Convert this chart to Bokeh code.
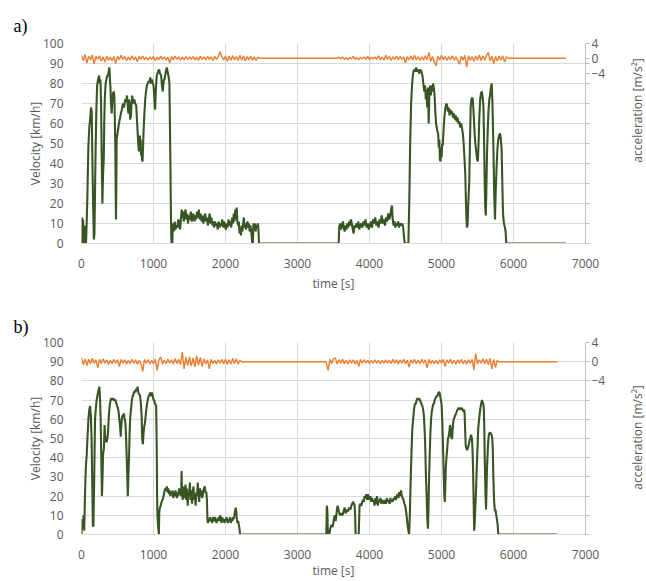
import math
from bokeh.plotting import figure
from bokeh.models import Range1d, LinearAxis, FixedTicker, Title, Label
from bokeh.layouts import column, row
from bokeh.embed import file_html
from bokeh.resources import INLINE

# ---------------- data ----------------
x_ticks = [0, 1000, 2000, 3000, 4000, 5000, 6000, 7000]
v_ticks = [0, 10, 20, 30, 40, 50, 60, 70, 80, 90, 100]
acc_ticks = [-4, 0, 4]

# panel a) velocity [km/h] (time [s], value)
speed_a = [
(0,0),(8,13),(15,2),(22,12),(30,0),(40,9),(48,0),(62,0),(72,10),(82,24),(95,48),(108,58),(120,62),(132,68),(142,66),(152,40),(162,18),(172,2),(180,5),(194,42),(205,65),(217,79),(230,82),(244,84),(254,80),(263,82),(272,70),(282,40),(290,20),(300,35),(309,42),(316,60),(323,72),(335,80),(346,82),(358,84),(369,84),(378,86),(387,88),(395,82),(401,79),(410,70),(419,65),(428,72),(438,75),(447,76),(456,74),(463,62),(470,47),(475,25),(479,12),(484,30),(488,52),(500,55),(516,59),(530,62),(548,65),(560,67),(576,70),(590,68),(608,72),(620,71),(631,74),(640,70),(648,66),(654,65),(660,72),(668,70),(676,62),(687,64),(695,70),(705,74),(718,70),(733,72),(746,70),(760,69),(770,62),(779,56),(788,50),(797,46),(805,52),(811,54),(816,48),(822,52),(828,44),(834,48),(840,42),(848,41),(855,48),(862,56),(872,64),(885,72),(896,76),(908,79),(920,80),(932,81),(945,81),(955,83),(965,80),(977,82),(990,80),(1000,79),(1010,74),(1018,68),(1023,67),(1030,75),(1038,80),(1046,84),(1055,85),(1065,86),(1078,87),(1090,85),(1106,84),(1115,80),(1122,78),(1129,76),(1138,80),(1145,82),(1152,82),(1162,84),(1172,86),(1184,88),(1196,86),(1207,84),(1215,82),(1221,80),(1228,60),(1235,39),(1242,15),(1249,0),(1262,0),
(1267,8),(1275,10),(1285,6),(1295,11),(1305,7),(1318,9),(1330,8),(1345,12),(1358,9),(1369,7),(1380,12),(1392,17),(1400,13),(1410,16),(1420,11),(1432,14),(1445,17),(1456,12),(1468,15),(1480,10),(1492,14),(1505,12),(1518,16),(1530,11),(1542,13),(1555,15),(1568,11),(1580,14),(1592,12),(1605,16),(1618,13),(1630,17),(1642,12),(1655,15),(1668,11),(1680,14),(1692,10),(1705,13),(1718,15),(1730,11),(1742,13),(1755,9),(1768,12),(1780,15),(1792,10),(1805,13),(1818,9),(1830,11),(1842,8),(1855,11),(1868,9),(1880,10),(1892,7),(1905,11),(1918,8),(1930,10),(1942,9),(1955,12),(1968,8),(1980,11),(1992,9),(2005,7),(2018,10),(2030,8),(2042,12),(2055,9),(2068,11),(2080,8),(2092,13),(2105,10),(2115,15),(2125,11),(2135,17),(2145,12),(2155,18),(2165,11),(2175,9),(2185,11),(2195,5),(2205,8),(2215,4),(2225,9),(2235,6),(2245,10),(2255,13),(2265,8),(2275,10),(2285,7),(2295,9),(2305,11),(2315,8),(2325,10),(2335,6),(2345,9),(2355,7),(2365,3),(2372,0),(2380,0),(2388,10),(2398,7),(2408,10),(2418,6),(2428,9),(2438,8),(2448,10),(2458,7),(2465,0),
(3560,0),(3572,0),(3580,8),(3592,10),(3605,7),(3618,9),(3630,11),(3642,8),(3655,6),(3668,9),(3680,7),(3692,10),(3705,8),(3718,11),(3730,9),(3742,12),(3755,10),(3768,7),(3780,5),(3792,9),(3805,8),(3818,10),(3830,8),(3845,11),(3858,7),(3870,9),(3885,10),(3900,8),(3915,11),(3930,9),(3945,12),(3960,8),(3975,10),(3990,7),(4005,9),(4020,11),(4035,8),(4050,12),(4065,10),(4080,13),(4095,9),(4110,11),(4125,8),(4140,12),(4155,10),(4170,14),(4185,10),(4200,12),(4215,9),(4230,13),(4245,11),(4260,15),(4275,12),(4290,14),(4300,17),(4312,19),(4322,12),(4335,9),(4348,11),(4360,8),(4372,10),(4385,9),(4398,11),(4410,8),(4425,10),(4440,9),(4455,10),(4468,8),(4480,3),(4490,0),(4540,0),
(4552,20),(4565,50),(4578,70),(4592,80),(4605,85),(4620,87),(4635,86),(4648,88),(4660,86),(4675,87),(4690,85),(4705,87),(4720,86),(4735,84),(4748,80),(4760,76),(4772,79),(4782,72),(4792,77),(4802,68),(4812,78),(4822,60),(4832,76),(4842,79),(4852,74),(4862,79),(4872,76),(4882,80),(4894,78),(4904,74),(4914,66),(4924,60),(4934,58),(4944,56),(4954,55),(4962,48),(4970,52),(4978,42),(4986,41),(4994,48),(5002,43),(5010,50),(5018,49),(5030,58),(5042,64),(5055,68),(5068,70),(5078,69),(5090,66),(5100,68),(5112,64),(5122,67),(5135,65),(5147,66),(5160,63),(5172,65),(5185,62),(5198,64),(5210,61),(5222,63),(5235,60),(5248,61),(5260,58),(5272,60),(5284,58),(5296,55),(5308,50),(5320,42),(5330,35),(5340,20),(5352,8),(5362,9),(5372,20),(5385,30),(5395,50),(5405,68),(5415,72),(5425,73),(5435,72),(5448,64),(5460,55),(5470,50),(5482,46),(5495,42),(5505,41),(5515,50),(5525,63),(5537,72),(5548,75),(5560,76),(5572,73),(5583,68),(5592,50),(5600,30),(5608,18),(5615,14),(5622,25),(5632,45),(5642,56),(5652,66),(5664,72),(5674,74),(5686,78),(5697,80),(5706,72),(5714,60),(5722,45),(5732,25),(5743,12),(5752,25),(5766,39),(5778,48),(5789,52),(5800,54),(5812,55),(5822,53),(5835,47),(5845,30),(5852,18),(5858,13),(5868,10),(5881,8),(5890,6),(5900,0),(6729,0)]

# panel b) velocity [km/h]
speed_b = [
(0,0),(10,8),(20,3),(28,10),(38,2),(48,20),(60,35),(73,42),(85,52),(96,60),(108,65),(119,67),(130,62),(140,50),(150,25),(158,5),(165,4),(175,25),(188,60),(200,66),(210,70),(220,72),(235,75),(248,77),(258,70),(266,60),(275,40),(284,20),(292,30),(300,42),(312,45),(320,57),(328,52),(335,48),(342,50),(349,48),(358,50),(367,52),(380,62),(394,68),(405,70),(415,71),(427,70),(440,71),(455,70),(472,70),(485,68),(495,67),(505,66),(515,64),(525,60),(532,58),(540,54),(545,51),(550,55),(560,60),(570,62),(578,62),(590,63),(600,60),(610,58),(620,50),(628,40),(636,30),(643,20),(651,30),(660,40),(670,55),(679,62),(690,66),(700,70),(710,72),(720,73),(730,74),(740,75),(750,74),(760,76),(770,75),(780,77),(790,74),(803,73),(815,72),(825,68),(835,62),(843,50),(853,47),(860,52),(870,56),(881,58),(892,62),(900,65),(910,68),(920,70),(932,72),(945,73),(957,74),(967,72),(977,74),(990,72),(1000,70),(1010,70),(1022,68),(1037,67),(1045,45),(1050,20),(1055,10),(1062,5),(1070,2),(1075,0),(1080,12),(1090,14),(1100,15),(1112,17),(1125,18),(1140,20),(1150,22),(1160,24),(1172,23),(1185,25),(1195,22),(1205,24),(1215,21),(1225,23),(1235,20),(1245,22),(1255,21),(1265,23),(1275,19),(1285,22),(1295,20),(1305,23),(1315,21),(1325,19),(1335,22),(1345,20),(1355,24),(1365,21),(1375,23),(1385,20),(1390,33),(1396,22),(1405,18),(1415,25),(1425,21),(1435,19),(1445,26),(1455,18),(1465,24),(1475,15),(1485,22),(1495,20),(1505,27),(1515,18),(1525,23),(1535,16),(1545,22),(1555,25),(1565,18),(1575,21),(1585,15),(1595,22),(1605,20),(1615,27),(1625,21),(1635,17),(1645,24),(1655,20),(1665,23),(1675,19),(1688,21),(1700,24),(1712,25),(1722,22),(1734,22),(1742,18),(1750,7),(1757,6),(1765,8),(1775,7),(1785,9),(1795,7),(1805,8),(1815,6),(1825,9),(1835,8),(1845,7),(1855,9),(1865,8),(1875,6),(1885,8),(1895,7),(1905,9),(1915,7),(1925,10),(1935,8),(1945,6),(1955,9),(1965,7),(1975,8),(1985,6),(1995,8),(2005,7),(2015,9),(2025,7),(2035,6),(2045,8),(2055,7),(2065,9),(2075,6),(2085,8),(2095,7),(2105,9),(2115,8),(2124,10),(2132,12),(2142,14),(2150,12),(2158,8),(2166,6),(2175,7),(2185,5),(2195,3),(2202,0),
(3400,0),(3408,15),(3415,12),(3422,0),(3440,0),(3455,3),(3472,5),(3490,4),(3505,8),(3518,10),(3530,7),(3545,12),(3556,15),(3564,14),(3575,12),(3590,10),(3605,11),(3624,10),(3640,12),(3656,14),(3670,11),(3685,13),(3702,12),(3718,14),(3735,13),(3748,15),(3760,16),(3771,17),(3785,16),(3794,15),(3800,10),(3807,0),(3850,0),(3858,10),(3862,15),(3875,16),(3888,15),(3899,17),(3910,18),(3922,17),(3931,20),(3942,19),(3955,21),(3966,18),(3977,21),(3988,19),(4000,18),(4012,20),(4024,17),(4035,19),(4046,17),(4058,18),(4070,15),(4082,19),(4095,16),(4105,20),(4115,15),(4128,18),(4140,17),(4152,19),(4165,16),(4178,18),(4190,17),(4203,16),(4215,18),(4229,16),(4240,19),(4252,17),(4265,18),(4278,16),(4290,19),(4298,17),(4310,18),(4322,17),(4335,19),(4348,18),(4358,20),(4367,18),(4378,20),(4390,21),(4402,19),(4413,22),(4425,20),(4438,23),(4450,20),(4462,19),(4472,18),(4485,16),(4495,15),(4505,13),(4515,10),(4528,5),(4540,2),(4550,0),
(4560,10),(4573,30),(4585,45),(4595,55),(4606,60),(4618,65),(4630,68),(4642,68),(4655,70),(4666,71),(4678,70),(4688,71),(4700,70),(4712,69),(4722,68),(4734,67),(4745,65),(4755,62),(4765,55),(4775,45),(4784,30),(4794,20),(4803,8),(4812,3),(4820,15),(4828,30),(4835,40),(4845,52),(4855,60),(4865,64),(4875,66),(4885,68),(4894,68),(4905,70),(4917,71),(4928,72),(4940,72),(4950,73),(4960,74),(4972,74),(4982,72),(4992,70),(5000,68),(5010,60),(5018,50),(5025,40),(5032,30),(5040,20),(5046,17),(5053,25),(5060,35),(5069,40),(5080,45),(5090,50),(5101,51),(5110,54),(5118,57),(5124,56),(5132,52),(5140,50),(5147,50),(5155,55),(5162,58),(5170,60),(5180,61),(5190,62),(5202,63),(5212,64),(5222,65),(5239,66),(5250,65),(5262,66),(5275,65),(5284,66),(5295,65),(5305,64),(5315,65),(5321,63),(5328,55),(5335,47),(5345,45),(5355,44),(5367,45),(5380,47),(5390,49),(5399,50),(5410,52),(5422,50),(5430,45),(5438,35),(5445,20),(5450,10),(5454,2),(5460,5),(5467,12),(5477,20),(5490,35),(5500,45),(5510,55),(5522,60),(5537,65),(5550,68),(5562,70),(5569,69),(5580,68),(5587,66),(5595,55),(5600,40),(5606,30),(5612,20),(5619,13),(5626,25),(5632,35),(5638,40),(5648,48),(5658,52),(5668,53),(5680,53),(5690,52),(5697,52),(5705,50),(5712,45),(5720,30),(5728,20),(5735,15),(5743,12),(5750,13),(5760,10),(5770,8),(5780,5),(5789,0),(6606,0)]

# acceleration [m/s^2], sampled every acc_step seconds inside active segments
acc_step = 25
acc_a1_start = 0
acc_a1 = [0.8,-0.6,1.0,-1.2,0.6,-0.4,0.9,-1.5,0.5,-0.3,0.7,-0.8,0.4,-1.0,0.6,-0.5,0.3,-0.7,0.5,-1.4,
          0.6,-0.4,0.8,-0.3,0.5,-0.6,0.3,-0.5,0.7,-0.4,0.4,-0.9,0.5,-0.3,0.6,-0.4,0.3,-0.5,0.4,-0.3,
          0.5,-0.6,0.3,-0.4,0.6,-0.3,0.4,-0.5,0.3,-1.2,0.5,-0.4,0.6,-0.3,0.4,-0.5,0.3,-0.4,0.5,-0.3,
          0.4,-0.3,0.5,-0.4,0.3,-0.5,0.6,-0.3,0.4,-0.4,0.5,-0.3,0.4,-0.6,0.5,-0.3,0.4,1.8,0.3,-0.4,
          0.6,-0.8,0.6,-0.5,0.7,-0.4,0.5,-0.6,0.8,-0.5,0.6,-0.7,0.5,-0.4,0.6,-0.5,0.4,-0.6,0.3]
acc_a2_start = 3575
acc_a2 = [0.3,-0.2,0.4,-0.3,0.2,-0.4,0.3,-0.2,0.5,-0.3,0.2,-0.4,0.3,-0.2,0.4,-0.3,0.6,-0.4,0.3,-0.2,
          0.4,-0.3,0.7,-0.4,0.3,-0.5,0.8,-0.3,0.5,-0.6,0.4,-0.3,0.6,-0.4,0.5,-0.3,0.4,-1.2,0.5,-0.4,
          0.6,-0.5,0.8,-0.4,0.5,-0.6,0.4,-0.5,0.7,-0.4,1.6,-0.8,0.5,-1.0,-2.0,0.6,-0.5,0.8,-0.4,0.5,
          -0.6,0.5,-0.4,0.7,-0.5,0.4,-0.6,-1.6,0.6,-0.5,0.8,-2.4,0.7,-0.6,0.5,-0.8,0.6,-0.5,0.9,-0.6,
          0.7,-0.5,0.8,1.6,-0.7,0.6,-1.4,0.5,-0.8,0.6,-0.5,0.7,-1.0,0.4]
acc_a_flat = [(2475, 0), (3550, 0), (5925, 0), (6729, 0)]

acc_b1_start = 0
acc_b1 = [0.9,-0.7,0.6,-0.8,0.5,-0.4,0.7,-0.3,0.4,-1.3,0.5,-0.4,0.6,-0.3,0.4,-0.6,0.3,-0.4,0.5,-0.3,
          0.4,-1.0,0.5,-0.3,0.4,-0.5,0.3,-0.4,0.5,-0.3,0.4,-0.5,0.3,-0.4,-2.0,0.5,-0.3,0.4,-0.5,0.3,
          -0.4,0.5,-1.8,0.4,1.0,-0.5,0.3,-0.4,0.5,-0.3,0.4,-0.5,0.6,-0.4,0.5,-0.6,2.0,-1.5,0.9,-0.8,
          1.0,-0.9,0.8,-1.1,1.2,-0.7,0.9,-1.0,0.6,-0.5,0.4,-1.5,0.5,-0.4,0.3,-0.5,0.4,-0.3,0.5,-0.4,
          0.5,-0.6,0.4,-0.5,0.7,-0.4,0.6,-0.5,0.3]
acc_b2_start = 3400
acc_b2 = [-0.3,-1.8,0.5,-0.4,0.6,0.8,-0.5,0.4,-0.3,0.5,-0.4,0.3,-0.5,0.4,-0.3,0.4,-0.5,0.3,-1.0,0.5,
          -0.3,0.4,-0.3,0.3,-0.4,0.3,-0.3,0.4,-0.3,0.3,-0.4,0.3,-0.3,0.4,-0.3,0.3,-0.4,0.5,-0.3,0.4,
          -0.5,0.4,-0.3,0.5,-0.4,0.3,-1.1,0.4,-0.3,0.5,-0.4,0.3,-0.4,0.5,-0.3,0.4,-1.3,0.5,-0.4,0.3,
          -0.4,0.3,-0.5,0.4,-0.3,0.5,-1.0,0.4,-0.3,0.5,-0.4,0.3,-0.5,0.4,-0.3,0.5,-0.4,0.3,-0.5,0.4,
          -0.3,0.5,-1.7,1.7,-0.5,0.4,-0.3,0.6,-0.4,0.5,-0.6,0.7,-1.5,0.5,-1.2,0.3]
acc_b_flat = [(2225, 0), (3390, 0), (5800, 0), (6606, 0)]

# ---------------- style ----------------
GREEN = "#375623"
ORANGE = "#ED7D31"
GRID = "#D9D9D9"
AXIS = "#BFBFBF"
TXT = "#595959"
FONT = "Open Sans"
MAIN_W = 608
SIDE_W = 646 - MAIN_W


def seg(start, vals):
    return [start + acc_step * i for i in range(len(vals))], list(vals)


def acc_series(s1, v1, s2, v2, flat):
    t1, a1 = seg(s1, v1)
    t2, a2 = seg(s2, v2)
    t = t1 + [flat[0][0], flat[1][0]] + t2 + [flat[2][0], flat[3][0]]
    a = a1 + [flat[0][1], flat[1][1]] + a2 + [flat[2][1], flat[3][1]]
    return t, a


def panel(letter, speed, acc_t, acc_v, acc_lo, height, top, bottom, time_standoff, title_standoff, acc_lab_y):
    p = figure(width=MAIN_W, height=height, output_backend="svg", toolbar_location=None,
               x_range=Range1d(0, 7000), y_range=Range1d(0, 100),
               min_border_left=81, min_border_right=MAIN_W - 588,
               min_border_top=top, min_border_bottom=bottom)
    p.extra_y_ranges = {"acc": Range1d(acc_lo, 4)}
    p.outline_line_color = None

    p.line([s[0] for s in speed], [s[1] for s in speed], color=GREEN, line_width=2.1)
    p.line(acc_t, acc_v, color=ORANGE, line_width=1.4, y_range_name="acc")

    xa = p.xaxis[0]
    xa.ticker = FixedTicker(ticks=x_ticks)
    xa.axis_line_color = GRID
    xa.major_tick_line_color = None
    xa.minor_tick_line_color = None
    xa.major_label_standoff = 9
    xa.major_label_text_font = FONT
    xa.major_label_text_font_size = "12px"
    xa.major_label_text_color = TXT
    xa.axis_label = "time [s]"
    xa.axis_label_standoff = time_standoff
    xa.axis_label_text_font = FONT
    xa.axis_label_text_font_size = "12px"
    xa.axis_label_text_font_style = "normal"
    xa.axis_label_text_color = TXT

    ya = p.yaxis[0]
    ya.ticker = FixedTicker(ticks=v_ticks)
    ya.axis_line_color = None
    ya.major_tick_line_color = None
    ya.minor_tick_line_color = None
    ya.major_label_standoff = 12
    ya.major_label_text_font = FONT
    ya.major_label_text_font_size = "12px"
    ya.major_label_text_color = TXT
    ya.axis_label = "Velocity [km/h]"
    ya.axis_label_standoff = -4
    ya.axis_label_text_font = FONT
    ya.axis_label_text_font_size = "12px"
    ya.axis_label_text_font_style = "normal"
    ya.axis_label_text_color = TXT

    p.xgrid.ticker = FixedTicker(ticks=x_ticks)
    p.ygrid.ticker = FixedTicker(ticks=v_ticks)
    p.xgrid.grid_line_color = GRID
    p.ygrid.grid_line_color = GRID

    minor = [acc_lo + v * (4 - acc_lo) / 100.0 for v in v_ticks]
    ra = LinearAxis(y_range_name="acc", ticker=FixedTicker(ticks=acc_ticks, minor_ticks=minor))
    ra.axis_line_color = AXIS
    ra.major_tick_line_color = AXIS
    ra.minor_tick_line_color = AXIS
    ra.major_tick_out = 4
    ra.major_tick_in = 0
    ra.minor_tick_out = 4
    ra.minor_tick_in = 0
    ra.major_label_standoff = 2
    ra.major_label_text_font = FONT
    ra.major_label_text_font_size = "12px"
    ra.major_label_text_color = TXT
    p.add_layout(ra, "right")

    t = Title(text=letter, align="left", offset=-68, standoff=title_standoff,
              text_font="Liberation Serif", text_font_size="18px",
              text_font_style="normal", text_color="black")
    p.add_layout(t, "above")

    # side strip carrying the right-hand axis title; its frame matches the main frame rows
    s = figure(width=SIDE_W, height=height, output_backend="svg", toolbar_location=None,
               x_range=Range1d(0, 1), y_range=Range1d(0, 1),
               x_axis_location=None, y_axis_location=None,
               min_border_left=0, min_border_right=0, min_border_top=top, min_border_bottom=bottom)
    s.outline_line_color = None
    s.xgrid.visible = False
    s.ygrid.visible = False
    s.add_layout(Label(x=637 - MAIN_W, y=acc_lab_y, x_units="screen", y_units="screen",
                       text="acceleration [m/s²]", angle=math.pi / 2,
                       text_align="center", text_baseline="middle",
                       text_font=FONT, text_font_size="12px", text_color=TXT))
    return row(p, s, spacing=0)


ta, aa = acc_series(acc_a1_start, acc_a1, acc_a2_start, acc_a2, acc_a_flat)
tb, ab = acc_series(acc_b1_start, acc_b1, acc_b2_start, acc_b2, acc_b_flat)

# panel a: canvas rows 0..294, frame 43..246 ; panel b: canvas rows 294..581, frame 342..540
# label y is measured upward from the frame bottom
ra_ = panel("a)", speed_a, ta, aa, -50, 294, 43, 48, 4, 16, 246 - 113)
rb_ = panel("b)", speed_b, tb, ab, -36, 287, 48, 41, 0, 12, 540 - 443)

layout = column(ra_, rb_, spacing=0)
open("out.html", "w").write(file_html(layout, INLINE))
